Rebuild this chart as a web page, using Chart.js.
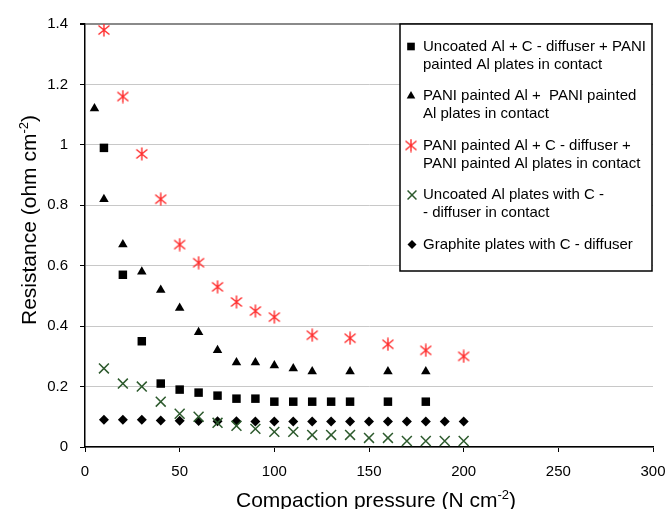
<!DOCTYPE html>
<html>
<head>
<meta charset="utf-8">
<title>Resistance vs compaction pressure</title>
<script src="https://cdn.jsdelivr.net/npm/chart.js@4.4.0/dist/chart.umd.min.js"></script>
<style>
    html, body { margin: 0; padding: 0; background: #fff; }
    #wrap { width: 671px; height: 509px; }
</style>
</head>
<body>
<div id="wrap"><canvas id="resistance-chart" width="671" height="509"></canvas></div>
<script>
    'use strict';

    // Axis ticks
    const xTicks = [0, 50, 100, 150, 200, 250, 300];
    const yTicks = [0, 0.2, 0.4, 0.6, 0.8, 1, 1.2, 1.4];

    // Uncoated Al + C-diffuser + PANI painted Al (squares)
    const squaresX = [10, 20, 30, 40, 50, 60, 70, 80, 90, 100, 110, 120, 130, 140, 160, 180];
    const squaresY = [0.99, 0.57, 0.35, 0.21, 0.19, 0.18, 0.17, 0.16, 0.16, 0.15, 0.15, 0.15, 0.15, 0.15, 0.15, 0.15];

    // PANI painted Al + PANI painted Al (triangles)
    const trianglesX = [5, 10, 20, 30, 40, 50, 60, 70, 80, 90, 100, 110, 120, 140, 160, 180];
    const trianglesY = [1.12, 0.82, 0.67, 0.58, 0.52, 0.46, 0.38, 0.32, 0.28, 0.28, 0.27, 0.26, 0.25, 0.25, 0.25, 0.25];

    // PANI painted Al + C-diffuser + PANI painted Al (red asterisks)
    const starsX = [10, 20, 30, 40, 50, 60, 70, 80, 90, 100, 120, 140, 160, 180, 200];
    const starsY = [1.38, 1.16, 0.97, 0.82, 0.67, 0.61, 0.53, 0.48, 0.45, 0.43, 0.37, 0.36, 0.34, 0.32, 0.30];

    // Uncoated Al plates with C-diffuser (green crosses)
    const crossesX = [10, 20, 30, 40, 50, 60, 70, 80, 90, 100, 110, 120, 130, 140, 150, 160, 170, 180, 190, 200];
    const crossesY = [0.26, 0.21, 0.20, 0.15, 0.11, 0.10, 0.08, 0.07, 0.06, 0.05, 0.05, 0.04, 0.04, 0.04, 0.03, 0.03, 0.02, 0.02, 0.02, 0.02];

    // Graphite plates with C-diffuser (diamonds)
    const diamondsX = [10, 20, 30, 40, 50, 60, 70, 80, 90, 100, 110, 120, 130, 140, 150, 160, 170, 180, 190, 200];
    const diamondsY = [0.09, 0.09, 0.09, 0.088, 0.087, 0.086, 0.085, 0.085, 0.084, 0.084, 0.084, 0.084, 0.084, 0.084, 0.084, 0.084, 0.084, 0.084, 0.084, 0.084];

    const legendLines = [
        ['Uncoated Al + C - diffuser + PANI', 'painted Al plates in contact'],
        ['PANI painted Al +  PANI painted', 'Al plates in contact'],
        ['PANI painted Al + C - diffuser +', 'PANI painted Al plates in contact'],
        ['Uncoated Al plates with C -', '- diffuser in contact'],
        ['Graphite plates with C - diffuser']
    ];

    const FONT = '"Liberation Sans", Arial, sans-serif';

    function toPoints(xs, ys) {
        return xs.map(function(x, i) {
            return { x: x, y: ys[i] };
        });
    }

    // Excel-style asterisk marker: an X with a vertical stroke
    function makeAsterisk(color) {
        const c = document.createElement('canvas');
        c.width = 14;
        c.height = 14;
        const g = c.getContext('2d');
        g.strokeStyle = color;
        g.lineWidth = 1.4;
        g.beginPath();
        g.moveTo(1.5, 2.5); g.lineTo(12.5, 11.5);
        g.moveTo(12.5, 2.5); g.lineTo(1.5, 11.5);
        g.moveTo(7, 0.5); g.lineTo(7, 13.5);
        g.stroke();
        return c;
    }

    const asterisk = makeAsterisk('#ff2a2a');

    const datasets = [
        {
            label: legendLines[0].join(' '),
            data: toPoints(squaresX, squaresY),
            pointStyle: 'rect',
            pointRadius: 6,
            pointBackgroundColor: '#000',
            pointBorderColor: '#000',
            pointBorderWidth: 0
        },
        {
            label: legendLines[1].join(' '),
            data: toPoints(trianglesX, trianglesY),
            pointStyle: 'triangle',
            pointRadius: 5.5,
            pointBackgroundColor: '#000',
            pointBorderColor: '#000',
            pointBorderWidth: 0
        },
        {
            label: legendLines[2].join(' '),
            data: toPoints(starsX, starsY),
            pointStyle: asterisk,
            pointRadius: 7,
            pointBackgroundColor: '#ff2a2a',
            pointBorderColor: '#ff2a2a'
        },
        {
            label: legendLines[3].join(' '),
            data: toPoints(crossesX, crossesY),
            pointStyle: 'crossRot',
            pointRadius: 7,
            pointBackgroundColor: '#2d5a2d',
            pointBorderColor: '#2d5a2d',
            pointBorderWidth: 1.5
        },
        {
            label: legendLines[4].join(' '),
            data: toPoints(diamondsX, diamondsY),
            pointStyle: 'rectRot',
            pointRadius: 5,
            pointBackgroundColor: '#000',
            pointBorderColor: '#000',
            pointBorderWidth: 0
        }
    ];

    /**
     * Boxed legend with two-line labels, drawn inside the plot
     */
    const boxLegend = {
        id: 'boxLegend',
        afterDatasetsDraw: function(chart) {
            const ctx = chart.ctx;
            const left = 400, top = 24, right = 652, bottom = 271;
            ctx.save();
            ctx.fillStyle = '#fff';
            ctx.fillRect(left, top, right - left, bottom - top);
            ctx.strokeStyle = '#000';
            ctx.lineWidth = 1.5;
            ctx.strokeRect(left, top, right - left, bottom - top);

            ctx.font = '15px ' + FONT;
            ctx.textBaseline = 'middle';
            ctx.textAlign = 'left';

            chart.data.datasets.forEach(function(ds, i) {
                const y = 46.5 + i * 49.5;
                const mx = i >= 3 ? 412 : 411;
                ctx.fillStyle = ds.pointBackgroundColor;
                ctx.strokeStyle = ds.pointBorderColor;
                ctx.lineWidth = ds.pointBorderWidth || 1;
                if (Chart.helpers && Chart.helpers.drawPoint) {
                    Chart.helpers.drawPoint(ctx, {
                        pointStyle: ds.pointStyle,
                        radius: ds.pointStyle === asterisk ? 7 : ds.pointRadius * 0.9,
                        rotation: 0,
                        borderWidth: ds.pointBorderWidth || 0
                    }, mx, y);
                }
                ctx.fillStyle = '#000';
                legendLines[i].forEach(function(line, k) {
                    ctx.fillText(line, 423, y + k * 18);
                });
            });
            ctx.restore();
        }
    };

    /**
     * Axis titles with superscript units
     */
    function drawSupTitle(ctx, base, sup, tail, x, y) {
        ctx.font = '21px ' + FONT;
        const wBase = ctx.measureText(base).width;
        const wTail = ctx.measureText(tail).width;
        ctx.font = '13px ' + FONT;
        const wSup = ctx.measureText(sup).width;
        let cx = x - (wBase + wSup + wTail) / 2;
        ctx.font = '21px ' + FONT;
        ctx.fillText(base, cx, y);
        cx += wBase;
        ctx.font = '13px ' + FONT;
        ctx.fillText(sup, cx, y - 8);
        cx += wSup;
        ctx.font = '21px ' + FONT;
        ctx.fillText(tail, cx, y);
    }

    const axisTitles = {
        id: 'axisTitles',
        afterDraw: function(chart) {
            const ctx = chart.ctx;
            ctx.save();
            ctx.fillStyle = '#000';
            ctx.textAlign = 'left';
            ctx.textBaseline = 'alphabetic';
            drawSupTitle(ctx, 'Compaction pressure (N cm', '-2', ')', 376, 507);

            ctx.translate(36, 220);
            ctx.rotate(-Math.PI / 2);
            drawSupTitle(ctx, 'Resistance (ohm cm', '-2', ')', 0, 0);
            ctx.restore();
        }
    };

    const ctx = document.getElementById('resistance-chart').getContext('2d');
    new Chart(ctx, {
        type: 'scatter',
        data: { datasets: datasets },
        plugins: [boxLegend, axisTitles],
        options: {
            responsive: false,
            animation: false,
            devicePixelRatio: 1,
            layout: {
                padding: { top: 24, right: 18, bottom: 0, left: 0 }
            },
            plugins: {
                legend: { display: false },
                tooltip: { enabled: false }
            },
            scales: {
                x: {
                    type: 'linear',
                    min: 0,
                    max: 300,
                    afterBuildTicks: function(scale) {
                        scale.ticks = xTicks.map(function(v) { return { value: v }; });
                    },
                    afterFit: function(scale) {
                        scale.height = 62;
                        scale.paddingLeft = 0;
                        scale.paddingRight = 0;
                    },
                    ticks: {
                        color: '#000',
                        font: { family: FONT, size: 15 },
                        padding: 11,
                        maxRotation: 0,
                        autoSkip: false
                    },
                    grid: {
                        drawOnChartArea: false,
                        drawTicks: true,
                        tickLength: 5,
                        tickColor: '#000'
                    },
                    border: { color: '#000', width: 1.5 }
                },
                y: {
                    type: 'linear',
                    min: 0,
                    max: 1.4,
                    afterBuildTicks: function(scale) {
                        scale.ticks = yTicks.map(function(v) { return { value: v }; });
                    },
                    afterFit: function(scale) {
                        scale.width = 85;
                        scale.paddingTop = 0;
                        scale.paddingBottom = 0;
                    },
                    ticks: {
                        color: '#000',
                        font: { family: FONT, size: 15 },
                        padding: 12,
                        callback: function(v) {
                            return String(Math.round(v * 10) / 10);
                        }
                    },
                    grid: {
                        color: function(c) {
                            return c.tick && c.tick.value === 1.4 ? '#8a8a8a' : '#c8c8c8';
                        },
                        lineWidth: function(c) {
                            return c.tick && c.tick.value === 1.4 ? 2 : 1;
                        },
                        drawTicks: true,
                        tickLength: 5,
                        tickColor: '#000'
                    },
                    border: { color: '#000', width: 1.5 }
                }
            }
        }
    });
</script>
</body>
</html>
